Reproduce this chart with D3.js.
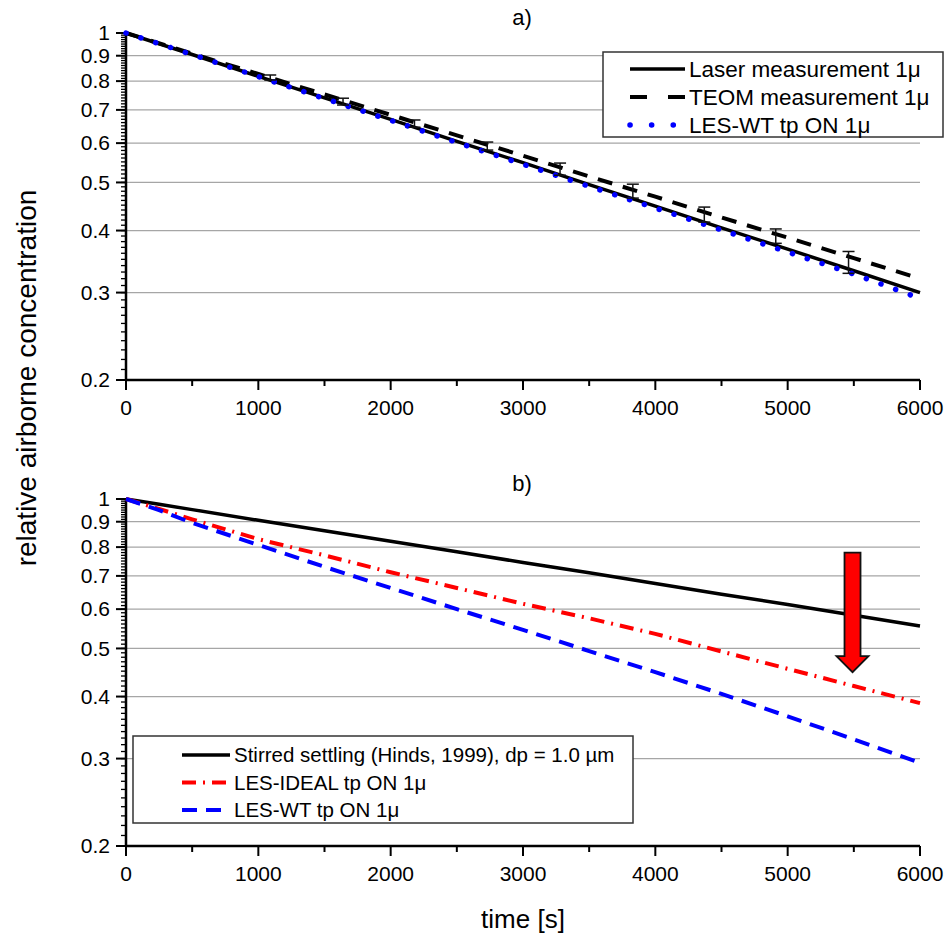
<!DOCTYPE html>
<html>
<head>
<meta charset="utf-8">
<script src="https://cdn.jsdelivr.net/npm/d3@7"></script>
<style>
  body { margin: 0; background: #fff; }
  svg { font-family: Arial, "Liberation Sans", sans-serif; }
</style>
</head>
<body>
<svg id="chart" width="945" height="940"></svg>
<script>
// axes
const timeTicks = [0, 1000, 2000, 3000, 4000, 5000, 6000];
const timeMinor = [500, 1500, 2500, 3500, 4500, 5500];
const concTicks = [0.2, 0.3, 0.4, 0.5, 0.6, 0.7, 0.8, 0.9, 1];
const concLabels = ["0.2", "0.3", "0.4", "0.5", "0.6", "0.7", "0.8", "0.9", "1"];
const gridTicks = [0.3, 0.4, 0.5, 0.6, 0.7, 0.8, 0.9];

// panel a)
const tTop = [0, 500, 1000, 1500, 2000, 2500, 3000, 3500, 4000, 4500, 5000, 5500, 6000];
const laser = [1, 0.905, 0.818, 0.740, 0.670, 0.605, 0.548, 0.495, 0.448, 0.405, 0.367, 0.332, 0.300];
const teom = [1, 0.909, 0.827, 0.752, 0.684, 0.622, 0.566, 0.514, 0.468, 0.425, 0.387, 0.352, 0.320];
const lesWtTop = [1, 0.905, 0.817, 0.738, 0.667, 0.602, 0.544, 0.491, 0.444, 0.401, 0.362, 0.327, 0.292];
const errTime = [1090, 1640, 2180, 2730, 3280, 3830, 4370, 4910, 5460];
const errHigh = [0.823, 0.739, 0.668, 0.603, 0.547, 0.496, 0.446, 0.403, 0.363];
const errLow = [0.804, 0.716, 0.646, 0.581, 0.517, 0.465, 0.416, 0.377, 0.328];

// panel b)
const tBottom = [0, 250, 500, 1000, 1500, 2000, 2500, 3000, 3500, 4000, 4500, 5000, 5500, 6000];
const stirred = [1, 0.976, 0.952, 0.906, 0.863, 0.822, 0.783, 0.745, 0.710, 0.676, 0.643, 0.613, 0.583, 0.555];
const lesIdeal = [1, 0.955, 0.910, 0.830, 0.770, 0.712, 0.662, 0.615, 0.575, 0.535, 0.493, 0.455, 0.420, 0.388];
const lesWt = [1, 0.950, 0.895, 0.808, 0.730, 0.662, 0.600, 0.545, 0.494, 0.448, 0.405, 0.365, 0.328, 0.294];
const arrowAt = [5490, 0.78, 0.448];

const legendTop = ["Laser measurement 1\u03bc", "TEOM measurement 1\u03bc", "LES-WT tp ON 1\u03bc"];
const legendBottom = ["Stirred settling (Hinds, 1999), dp = 1.0 \u00b5m", "LES-IDEAL tp ON 1\u03bc", "LES-WT tp ON 1\u03bc"];

const svg = d3.select('#chart');
const left = 126, right = 920;
const x = d3.scaleLinear().domain([0, 6000]).range([left, right]);

const styles = {
  laser: {stroke: 'black', width: 3.5, dash: null, cap: 'butt'},
  teom: {stroke: 'black', width: 4, dash: '15,11', cap: 'butt'},
  dots: {stroke: '#0000ff', width: 5.5, dash: '0.1,15.5', cap: 'round'},
  stirred: {stroke: 'black', width: 3.5, dash: null, cap: 'butt'},
  ideal: {stroke: '#ff0000', width: 4, dash: '14,7,2,7', cap: 'butt'},
  wt: {stroke: '#0000ff', width: 4, dash: '15,9', cap: 'butt'}
};

function makePanel(top, bottom, title) {
  const y = d3.scaleLog().domain([0.2, 1]).range([bottom, top]);
  const g = svg.append('g');

  g.selectAll('line.grid').data(gridTicks).enter().append('line')
    .attr('class', 'grid')
    .attr('x1', left).attr('x2', right)
    .attr('y1', d => y(d)).attr('y2', d => y(d))
    .attr('stroke', '#a6a6a6').attr('stroke-width', 1.3);

  // y minor ticks every 0.01
  g.selectAll('line.yminor').data(d3.range(20, 101).map(d => d / 100)).enter().append('line')
    .attr('class', 'yminor')
    .attr('x1', left - 5).attr('x2', left)
    .attr('y1', d => y(d)).attr('y2', d => y(d))
    .attr('stroke', 'black').attr('stroke-width', 1.3);

  g.selectAll('line.ymajor').data(concTicks).enter().append('line')
    .attr('class', 'ymajor')
    .attr('x1', left - 10).attr('x2', left)
    .attr('y1', d => y(d)).attr('y2', d => y(d))
    .attr('stroke', 'black').attr('stroke-width', 2);

  g.selectAll('text.ylab').data(concTicks).enter().append('text')
    .attr('class', 'ylab')
    .attr('x', left - 16).attr('y', d => y(d))
    .attr('dy', '0.35em')
    .attr('text-anchor', 'end')
    .attr('font-size', 21)
    .text((d, i) => concLabels[i]);

  g.selectAll('line.xminor').data(timeMinor).enter().append('line')
    .attr('class', 'xminor')
    .attr('x1', d => x(d)).attr('x2', d => x(d))
    .attr('y1', bottom).attr('y2', bottom + 6)
    .attr('stroke', 'black').attr('stroke-width', 2);

  g.selectAll('line.xmajor').data(timeTicks).enter().append('line')
    .attr('class', 'xmajor')
    .attr('x1', d => x(d)).attr('x2', d => x(d))
    .attr('y1', bottom).attr('y2', bottom + 10)
    .attr('stroke', 'black').attr('stroke-width', 2);

  g.selectAll('text.xlab').data(timeTicks).enter().append('text')
    .attr('class', 'xlab')
    .attr('x', d => x(d)).attr('y', bottom + 35)
    .attr('text-anchor', 'middle')
    .attr('font-size', 21)
    .text(d => d);

  g.append('line').attr('x1', left).attr('x2', left).attr('y1', top).attr('y2', bottom)
    .attr('stroke', 'black').attr('stroke-width', 2.5);
  g.append('line').attr('x1', left).attr('x2', right).attr('y1', bottom).attr('y2', bottom)
    .attr('stroke', 'black').attr('stroke-width', 2.5);

  svg.append('text')
    .attr('x', 522).attr('y', top - 8)
    .attr('text-anchor', 'middle')
    .attr('font-size', 22)
    .text(title);

  return {g: g, y: y};
}

function drawSeries(panel, times, values, st) {
  const line = d3.line().x((d, i) => x(times[i])).y(d => panel.y(d));
  panel.g.append('path')
    .datum(values)
    .attr('d', line)
    .attr('fill', 'none')
    .attr('stroke', st.stroke)
    .attr('stroke-width', st.width)
    .attr('stroke-dasharray', st.dash)
    .attr('stroke-linecap', st.cap)
    .attr('stroke-linejoin', 'round');
}

function drawLegend(box, sample, names, keys, fs) {
  const lg = svg.append('g');
  lg.append('rect')
    .attr('x', box[0]).attr('y', box[1])
    .attr('width', box[2]).attr('height', box[3])
    .attr('fill', 'white').attr('stroke', '#333').attr('stroke-width', 1.5);
  names.forEach(function(name, i) {
    const yy = box[1] + sample[2] + i * sample[3];
    const st = styles[keys[i]];
    lg.append('line')
      .attr('x1', sample[0]).attr('x2', sample[1])
      .attr('y1', yy).attr('y2', yy)
      .attr('stroke', st.stroke)
      .attr('stroke-width', st.width)
      .attr('stroke-dasharray', keys[i] == 'dots' ? '0.1,21.5' : (keys[i] == 'teom' ? '17,21' : st.dash))
      .attr('stroke-linecap', st.cap);
    lg.append('text')
      .attr('x', sample[1] + 4).attr('y', yy)
      .attr('dy', '0.35em')
      .attr('font-size', fs)
      .text(name);
  });
}

// panel a)
const pa = makePanel(33, 380, 'a)');
drawSeries(pa, tTop, teom, styles.teom);
drawSeries(pa, tTop, laser, styles.laser);
drawSeries(pa, tTop, lesWtTop, styles.dots);

pa.g.selectAll('g.err').data(errTime).enter().append('g')
  .attr('class', 'err')
  .each(function(d, i) {
    const e = d3.select(this);
    const cx = x(d);
    e.append('line').attr('x1', cx).attr('x2', cx)
      .attr('y1', pa.y(errHigh[i])).attr('y2', pa.y(errLow[i]));
    e.append('line').attr('x1', cx - 6).attr('x2', cx + 6)
      .attr('y1', pa.y(errHigh[i])).attr('y2', pa.y(errHigh[i]));
    e.append('line').attr('x1', cx - 6).attr('x2', cx + 6)
      .attr('y1', pa.y(errLow[i])).attr('y2', pa.y(errLow[i]));
  })
  .selectAll('line').attr('stroke', '#111').attr('stroke-width', 1.5);

drawLegend([603, 52, 340, 85], [630, 685, 17, 28], legendTop, ['laser', 'teom', 'dots'], 22.5);

// panel b)
const pb = makePanel(499, 846, 'b)');
drawSeries(pb, tBottom, stirred, styles.stirred);
drawSeries(pb, tBottom, lesIdeal, styles.ideal);
drawSeries(pb, tBottom, lesWt, styles.wt);

// red arrow
const ax = x(arrowAt[0]), aTop = pb.y(arrowAt[1]), aTip = pb.y(arrowAt[2]);
const headH = 16, shaftW = 8, headW = 16;
pb.g.append('path')
  .attr('d', d3.line()([
    [ax - shaftW, aTop], [ax + shaftW, aTop], [ax + shaftW, aTip - headH],
    [ax + headW, aTip - headH], [ax, aTip], [ax - headW, aTip - headH],
    [ax - shaftW, aTip - headH]
  ]) + 'Z')
  .attr('fill', '#ff0000').attr('stroke', '#111').attr('stroke-width', 1.8)
  .attr('stroke-linejoin', 'miter');

drawLegend([133, 736, 500, 87], [182, 230, 19, 27.5], legendBottom, ['stirred', 'ideal', 'wt'], 20.5);

// axis titles
svg.append('text')
  .attr('transform', 'translate(36,378) rotate(-90)')
  .attr('text-anchor', 'middle')
  .attr('font-size', 28)
  .text('relative airborne concentration');

svg.append('text')
  .attr('x', 523).attr('y', 928)
  .attr('text-anchor', 'middle')
  .attr('font-size', 26)
  .text('time [s]');
</script>
</body>
</html>
